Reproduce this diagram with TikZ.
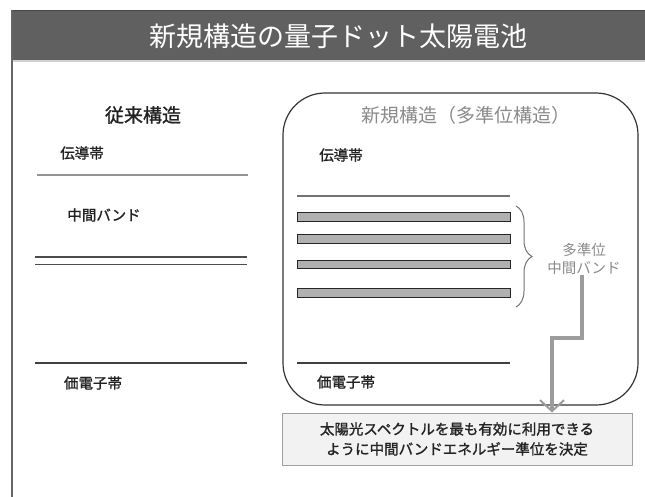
\documentclass[tikz,border=0pt]{standalone}
\usepackage{fontspec}
\setmainfont{Noto Sans CJK JP}
\newfontfamily\jpbold{Noto Sans CJK JP}[FakeBold=1.2]
\usetikzlibrary{decorations.pathreplacing,arrows.meta}
\definecolor{barcol}{HTML}{606060}
\definecolor{bartop}{HTML}{454545}
\definecolor{txtdark}{HTML}{222222}
\definecolor{txtgray}{HTML}{8A8A8A}
\definecolor{boxfill}{HTML}{F2F2F2}
\definecolor{boxline}{HTML}{A0A0A0}
\definecolor{arrcol}{HTML}{9C9C9C}
\tikzset{
  lbl/.style={font=\jpbold\fontsize{14.5}{17}\selectfont, text=txtdark, inner sep=0pt},
  hdr/.style={font=\fontsize{19}{22}\selectfont, inner sep=0pt},
  band/.style={draw=black!85, fill=gray!62, line width=0.9pt},
  level/.style={draw=black!75, line width=1.1pt},
  bigarrow/.style={draw=arrcol, line width=4pt, -{Straight Barb[length=11pt,width=24pt,line width=2pt]}},
}
\begin{document}
\begin{tikzpicture}[x=1pt,y=-1pt]
\useasboundingbox (0,0) rectangle (645,497);
% frame
\fill[barcol] (12,10) rectangle (645,60);
\draw[bartop, line width=1.5pt] (12,10.5) -- (645,10.5);
\draw[gray!35, line width=2pt] (12,61) -- (645,61);
\draw[gray!80!black, line width=1.5pt] (12,10) -- (12,497);
\node[font=\fontsize{27}{30}\selectfont, text=white, inner sep=0pt] (title) at (338,36) {新規構造の量子ドット太陽電池};
% left: conventional
\node[hdr, text=txtdark] (oldhdr) at (143,115) {\jpbold 従来構造};
\node[lbl] (lcb) at (82,153) {伝導帯};
\draw[gray!85, line width=2.5pt] (37,175) -- (248,175);
\node[lbl] (lmid) at (104,215) {中間バンド};
\draw[black!70, line width=1.5pt] (35,257) -- (247,257);
\draw[black!70, line width=1.5pt] (35,264.5) -- (247,264.5);
\draw[level] (35,363) -- (247,363);
\node[lbl] (lvb) at (93,383) {価電子帯};
% right: new structure
\draw[black!80, line width=1.2pt, rounded corners=42pt] (283,93) rectangle (638,405);
\node[hdr, text=txtgray] (newhdr) at (466,115) {新規構造（多準位構造）};
\node[lbl] (rcb) at (341,155) {伝導帯};
\draw[gray!90!black, line width=1.2pt] (297,196) -- (510,196);
\draw[band] (297,212.5) rectangle (510,221);
\draw[band] (297,234.5) rectangle (510,243);
\draw[band] (297,260) rectangle (510,268.5);
\draw[band] (297,288.5) rectangle (510,297);
\draw[level] (297,363) -- (510,363);
\node[lbl] (rvb) at (346,382) {価電子帯};
\draw[gray!90!black, line width=1pt, decorate, decoration={brace, amplitude=16pt}] (516,206) -- (516,307);
\node[font=\fontsize{14.5}{17.5}\selectfont, text=txtgray, align=center, inner sep=0pt] (ml) at (584,259) {多準位\\中間バンド};
\node[draw=boxline, fill=boxfill, line width=1pt, minimum width=350pt, minimum height=52pt, align=center, text=txtdark, font=\jpbold\fontsize{14.5}{20}\selectfont] (res) at (457,439) {太陽光スペクトルを最も有効に利用できる\\ように中間バンドエネルギー準位を決定};
\coordinate (turn) at (552,338);
\draw[bigarrow] ([xshift=-2pt]ml.south) |- (turn) -- (turn |- res.north);
\end{tikzpicture}
\end{document}
